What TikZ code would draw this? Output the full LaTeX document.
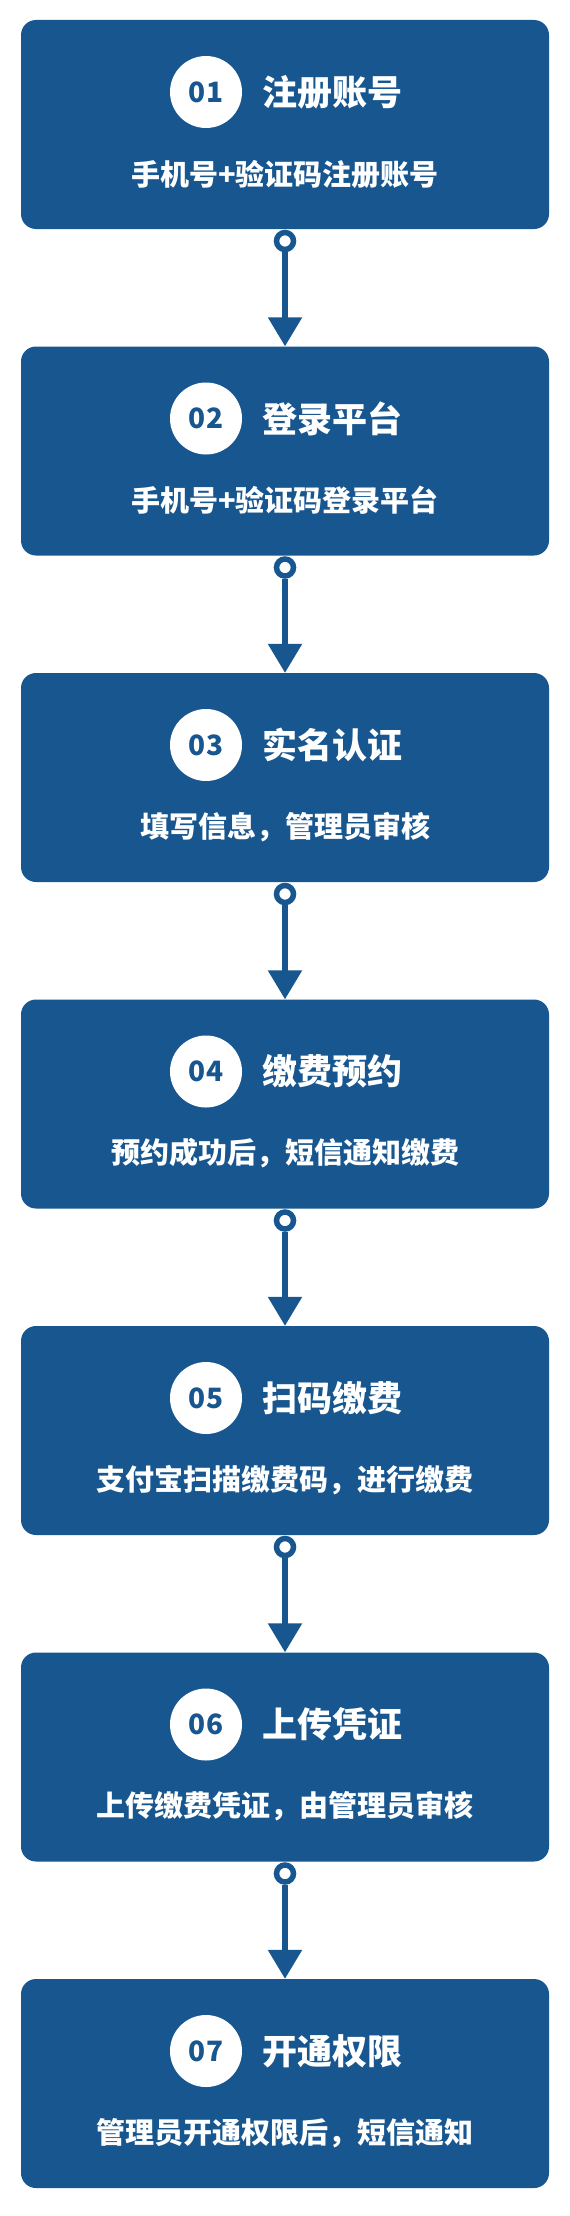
\documentclass[tikz,border=0pt]{standalone}
\usepackage{fontspec}
\newfontfamily\cjk{Noto Sans CJK SC}
\usepackage{tikz}
\usetikzlibrary{arrows.meta,positioning}
\definecolor{stepblue}{RGB}{23,86,143}

\begin{document}
\begin{tikzpicture}[
  x=1pt, y=-1pt,
  every node/.style={font=\cjk\bfseries},
  card/.style={fill=stepblue, rounded corners=15pt, minimum width=528pt, minimum height=209pt, inner sep=0pt},
  num/.style={circle, fill=white, minimum size=72pt, inner sep=0pt, text=stepblue, font=\cjk\bfseries\fontsize{28}{28}\selectfont},
  title/.style={anchor=west, inner sep=0pt, text=white, font=\cjk\bfseries\fontsize{35}{35}\selectfont},
  desc/.style={inner sep=0pt, text=white, font=\cjk\bfseries\fontsize{29}{29}\selectfont},
  ring/.style={circle, draw=stepblue, line width=5.5pt, fill=white, minimum size=17pt, inner sep=0pt},
  arr/.style={draw=stepblue, line width=5.5pt, -{Triangle[length=29pt,width=33pt]}},
]
\useasboundingbox (0,0) rectangle (570,2216);

% steps
\node[card] (b1) at (285,124.5) {};
\node[num] (n1) at (206,92) {01};
\node[title] (t1) at (262,92) {注册账号};
\node[desc] (d1) at (285,174) {手机号+验证码注册账号};

\node[card] (b2) at (285,451) {};
\node[num] (n2) at (206,418.5) {02};
\node[title] (t2) at (262,418.5) {登录平台};
\node[desc] (d2) at (285,500.5) {手机号+验证码登录平台};

\node[card] (b3) at (285,777.5) {};
\node[num] (n3) at (206,745) {03};
\node[title] (t3) at (262,745) {实名认证};
\node[desc] (d3) at (285,827) {填写信息，管理员审核};

\node[card] (b4) at (285,1104) {};
\node[num] (n4) at (206,1071.5) {04};
\node[title] (t4) at (262,1071.5) {缴费预约};
\node[desc] (d4) at (285,1153.5) {预约成功后，短信通知缴费};

\node[card] (b5) at (285,1430.5) {};
\node[num] (n5) at (206,1398) {05};
\node[title] (t5) at (262,1398) {扫码缴费};
\node[desc] (d5) at (285,1480) {支付宝扫描缴费码，进行缴费};

\node[card] (b6) at (285,1757) {};
\node[num] (n6) at (206,1724.5) {06};
\node[title] (t6) at (262,1724.5) {上传凭证};
\node[desc] (d6) at (285,1806.5) {上传缴费凭证，由管理员审核};

\node[card] (b7) at (285,2083.5) {};
\node[num] (n7) at (206,2051) {07};
\node[title] (t7) at (262,2051) {开通权限};
\node[desc] (d7) at (285,2133) {管理员开通权限后，短信通知};

% links
\node[ring] (r1) at (285,241) {};
\node[ring] (r2) at (285,567.5) {};
\node[ring] (r3) at (285,894) {};
\node[ring] (r4) at (285,1220.5) {};
\node[ring] (r5) at (285,1547) {};
\node[ring] (r6) at (285,1873.5) {};

\draw[arr] (r1) -- (b2.north);
\draw[arr] (r2) -- (b3.north);
\draw[arr] (r3) -- (b4.north);
\draw[arr] (r4) -- (b5.north);
\draw[arr] (r5) -- (b6.north);
\draw[arr] (r6) -- (b7.north);

\end{tikzpicture}
\end{document}
